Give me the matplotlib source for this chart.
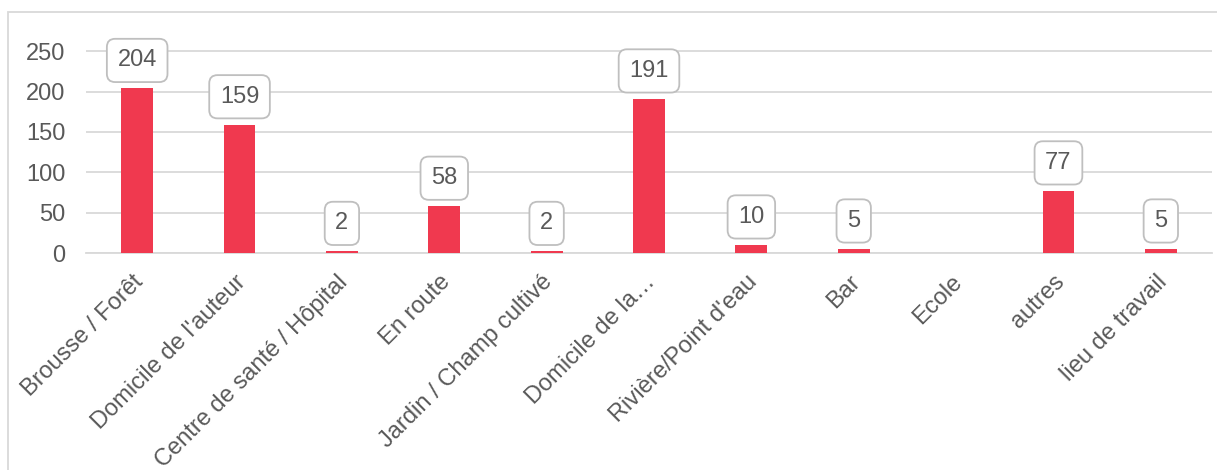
import matplotlib.pyplot as plt
import matplotlib.transforms as mtransforms
from matplotlib.patches import Rectangle

plt.rcParams['font.family'] = ['Liberation Sans', 'DejaVu Sans']

categories = ["Brousse / Forêt", "Domicile de l'auteur", "Centre de santé / Hôpital",
              "En route", "Jardin / Champ cultivé", "Domicile de la…",
              "Rivière/Point d'eau", "Bar", "Ecole", "autres", "lieu de travail"]
values = [204, 159, 2, 58, 2, 191, 10, 5, 0, 77, 5]
yticks = [0, 50, 100, 150, 200, 250]

bar_color = '#F0394F'
text_color = '#595959'
grid_color = '#D9D9D9'

W, H = 1217, 470
fig = plt.figure(figsize=(W / 100, H / 100), dpi=100)
ax = fig.add_axes([86 / W, (H - 253) / H, (1212 - 86) / W, (253 - 11) / H])

x = range(len(categories))
ax.bar(x, values, width=0.31, color=bar_color, zorder=3)

# data labels in rounded boxes (skip zero values)
for xi, v in zip(x, values):
    if v <= 0:
        continue
    ax.annotate(str(v), (xi, v), xytext=(0, 28), textcoords='offset pixels',
                ha='center', va='center', fontsize=17, color=text_color, zorder=5,
                bbox=dict(boxstyle='round,pad=0.45,rounding_size=0.35',
                          fc='white', ec='#BFBFBF', lw=1.3))

ax.set_xlim(-0.5, len(categories) - 0.5)
ax.set_ylim(0, 300)
ax.set_yticks(yticks)
ax.set_xticks(list(x))
ax.set_xticklabels(categories, rotation=45, ha='right', rotation_mode='anchor')
ax.tick_params(axis='both', length=0, labelsize=17, colors=text_color)
ax.tick_params(axis='y', pad=15)
ax.tick_params(axis='x', pad=13)
# nudge rotated labels a little to the left
shift = mtransforms.ScaledTranslation(-5 / 100, 0, fig.dpi_scale_trans)
for lbl in ax.get_xticklabels():
    lbl.set_transform(lbl.get_transform() + shift)
ax.yaxis.grid(True, color=grid_color, lw=1.3, zorder=0)
for s in ['top', 'right', 'left']:
    ax.spines[s].set_visible(False)
ax.spines['bottom'].set_color(grid_color)
ax.spines['bottom'].set_linewidth(1.3)

# outer chart frame (right and bottom edges fall outside the image)
fig.patches.append(Rectangle((8 / W, -0.1), 1.0, (H - 12) / H + 0.1,
                             transform=fig.transFigure, fill=False,
                             ec=grid_color, lw=1.3))

fig.savefig('out.png', dpi=100)
